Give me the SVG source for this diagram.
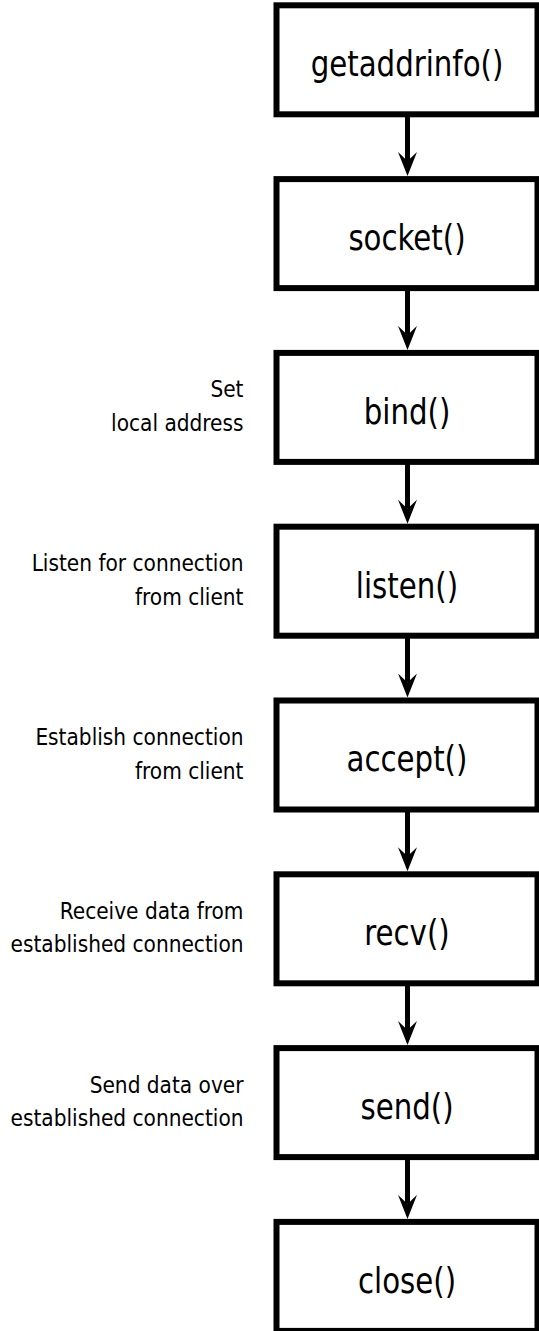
<svg xmlns="http://www.w3.org/2000/svg" width="539" height="1331" viewBox="0 0 539 1331">
  <style>
    .box rect { fill: #ffffff; stroke: #000000; stroke-width: 6; }
    .box text { font-family: "DejaVu Sans Condensed", "DejaVu Sans", sans-serif; font-size: 32.5px; font-stretch: condensed; text-anchor: middle; fill: #000000; }
    .note { font-family: "DejaVu Sans Condensed", "DejaVu Sans", sans-serif; font-size: 22.4px; font-stretch: condensed; text-anchor: end; fill: #000000; }
    .conn line { stroke: #000000; stroke-width: 5; marker-end: url(#head); }
  </style>
  <defs>
    <marker id="head" markerUnits="userSpaceOnUse" viewBox="0 -10 26 20" markerWidth="26" markerHeight="20" refX="9" refY="0" orient="auto">
      <path d="M0,-9.5 L9,0 L0,9.5 L24,0 Z" fill="#000000"/>
    </marker>
  </defs>

  <rect width="539" height="1331" fill="#ffffff"/>

  <!-- connectors: each runs from a box bottom down to the next box -->
  <g id="connectors" class="conn">
    <line x1="407.5" y1="114.3" x2="407.5" y2="161.1"/>
    <line x1="407.5" y1="288.1" x2="407.5" y2="334.9"/>
    <line x1="407.5" y1="461.9" x2="407.5" y2="508.7"/>
    <line x1="407.5" y1="635.7" x2="407.5" y2="682.5"/>
    <line x1="407.5" y1="809.5" x2="407.5" y2="856.3"/>
    <line x1="407.5" y1="983.3" x2="407.5" y2="1030.1"/>
    <line x1="407.5" y1="1157.1" x2="407.5" y2="1203.9"/>
  </g>

  <!-- call boxes -->
  <g id="getaddrinfo" class="box">
    <rect x="276.5" y="5.3" width="261" height="109"/>
    <text x="407" y="76.3" transform="translate(0,76.3) scale(1,1.07) translate(0,-76.3)">getaddrinfo()</text>
  </g>
  <g id="socket" class="box">
    <rect x="276.5" y="179.1" width="261" height="109"/>
    <text x="407" y="250.1" transform="translate(0,250.1) scale(1,1.07) translate(0,-250.1)">socket()</text>
  </g>
  <g id="bind" class="box">
    <rect x="276.5" y="352.9" width="261" height="109"/>
    <text x="407" y="423.9" transform="translate(0,423.9) scale(1,1.07) translate(0,-423.9)">bind()</text>
  </g>
  <g id="listen" class="box">
    <rect x="276.5" y="526.7" width="261" height="109"/>
    <text x="407" y="597.7" transform="translate(0,597.7) scale(1,1.07) translate(0,-597.7)">listen()</text>
  </g>
  <g id="accept" class="box">
    <rect x="276.5" y="700.5" width="261" height="109"/>
    <text x="407" y="771.5" transform="translate(0,771.5) scale(1,1.07) translate(0,-771.5)">accept()</text>
  </g>
  <g id="recv" class="box">
    <rect x="276.5" y="874.3" width="261" height="109"/>
    <text x="407" y="945.3" transform="translate(0,945.3) scale(1,1.07) translate(0,-945.3)">recv()</text>
  </g>
  <g id="send" class="box">
    <rect x="276.5" y="1048.1" width="261" height="109"/>
    <text x="407" y="1119.1" transform="translate(0,1119.1) scale(1,1.07) translate(0,-1119.1)">send()</text>
  </g>
  <g id="close" class="box">
    <rect x="276.5" y="1221.9" width="261" height="109"/>
    <text x="407" y="1292.9" transform="translate(0,1292.9) scale(1,1.07) translate(0,-1292.9)">close()</text>
  </g>

  <!-- side notes -->
  <g id="note-bind">
    <text class="note" x="243.5" y="397.4">Set</text>
    <text class="note" x="243.5" y="430.9">local address</text>
  </g>
  <g id="note-listen">
    <text class="note" x="243.5" y="571.2">Listen for connection</text>
    <text class="note" x="243.5" y="604.7">from client</text>
  </g>
  <g id="note-accept">
    <text class="note" x="243.5" y="745">Establish connection</text>
    <text class="note" x="243.5" y="778.5">from client</text>
  </g>
  <g id="note-recv">
    <text class="note" x="243.5" y="918.8">Receive data from</text>
    <text class="note" x="243.5" y="952.3">established connection</text>
  </g>
  <g id="note-send">
    <text class="note" x="243.5" y="1092.6">Send data over</text>
    <text class="note" x="243.5" y="1126.1">established connection</text>
  </g>
</svg>
